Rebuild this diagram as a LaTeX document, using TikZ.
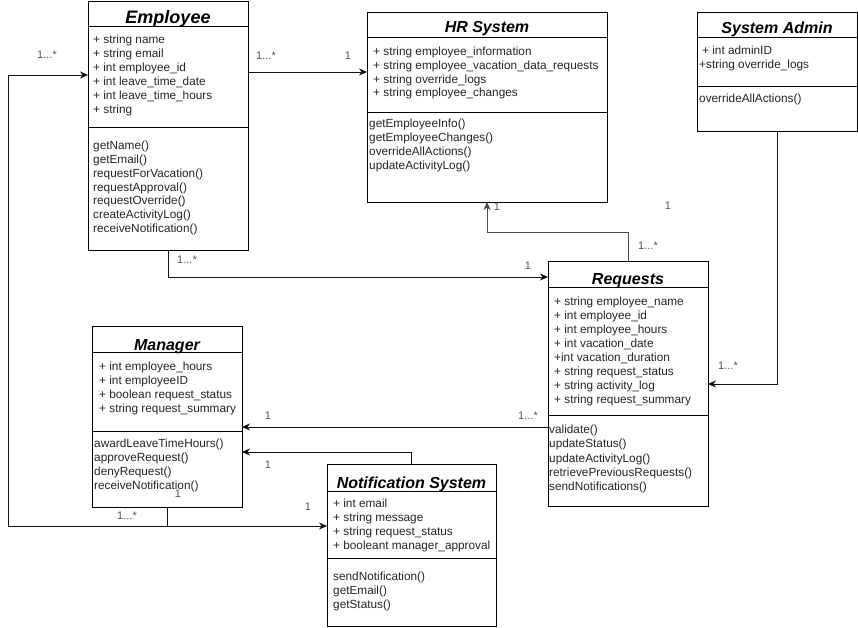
\documentclass[tikz,border=0pt]{standalone}
\usepackage{fontspec}
\setmainfont{Liberation Sans}
\usetikzlibrary{arrows.meta}
\definecolor{lbl}{HTML}{555555}
\definecolor{ln}{HTML}{111111}
\tikzset{
  x=1pt, y=-1pt,
  cls/.style={draw=black, line width=0.9pt, anchor=north west, inner sep=0pt, outer sep=0pt},
  sep/.style={draw=black, line width=0.9pt},
  txt/.style={anchor=base west, inner sep=0pt, font=\fontsize{11.8}{13}\selectfont, text=black!85},
  ttl/.style={anchor=base, inner sep=0pt, font=\fontsize{16}{18}\selectfont\bfseries\itshape},
  lab/.style={inner sep=0pt, font=\fontsize{11}{13}\selectfont, text=lbl},
  arr/.style={draw=ln, line width=0.9pt, -{Stealth[length=8pt,width=7pt]}},
  con/.style={draw=ln, line width=0.9pt},
}
\begin{document}
\begin{tikzpicture}
\useasboundingbox (0,0) rectangle (858,628);
\fill[white] (0,0) rectangle (858,628);

% ---------------- Employee
\node[cls, minimum width=160pt, minimum height=249pt] (emp) at (88,1) {};
\draw[sep] (88,26) -- (248,26);
\draw[sep] (88,127) -- (248,127);
\node[ttl, font=\fontsize{18}{20}\selectfont\bfseries\itshape] (empt) at (168,24) {Employee};
\foreach \t [count=\i] in {+ string name, + string email, + int employee\_id, + int leave\_time\_date, + int leave\_time\_hours, + string}
  \node[txt] (ea\i) at (93,{44+14*(\i-1)}) {\t};
\foreach \t [count=\i] in {getName(), getEmail(), requestForVacation(), requestApproval(), requestOverride(), createActivityLog(), receiveNotification()}
  \node[txt] (em\i) at (93,{150+13.7*(\i-1)}) {\t};

% ---------------- HR System
\node[cls, minimum width=240pt, minimum height=190pt] (hr) at (367,12) {};
\draw[sep] (367,37) -- (607,37);
\draw[sep] (367,112) -- (607,112);
\node[ttl] (hrt) at (487,33) {HR System};
\foreach \t [count=\i] in {+ string employee\_information, + string employee\_vacation\_data\_requests, + string override\_logs, + string employee\_changes}
  \node[txt] (ha\i) at (373,{55.5+13.8*(\i-1)}) {\t};
\foreach \t [count=\i] in {getEmployeeInfo(), getEmployeeChanges(), overrideAllActions(), updateActivityLog()}
  \node[txt] (hm\i) at (369,{128+14*(\i-1)}) {\t};

% ---------------- System Admin
\node[cls, minimum width=160pt, minimum height=119pt] (adm) at (697,12) {};
\draw[sep] (697,37) -- (857,37);
\draw[sep] (697,86) -- (857,86);
\node[ttl] (admt) at (777,34) {System Admin};
\node[txt] (aa1) at (702,55) {+ int adminID};
\node[txt] (aa2) at (699,69) {+string override\_logs};
\node[txt] (am1) at (699,103) {overrideAllActions()};

% ---------------- Requests
\node[cls, minimum width=160pt, minimum height=245pt] (req) at (548,261) {};
\draw[sep] (548,287) -- (708,287);
\draw[sep] (548,415) -- (708,415);
\node[ttl] (reqt) at (628,284) {Requests};
\foreach \t [count=\i] in {+ string employee\_name, + int employee\_id, + int employee\_hours, + int vacation\_date, +int vacation\_duration, + string request\_status, + string activity\_log, + string request\_summary}
  \node[txt] (ra\i) at (554,{305+14*(\i-1)}) {\t};
\foreach \t [count=\i] in {validate(), updateStatus(), updateActivityLog(), retrievePreviousRequests(), sendNotifications()}
  \node[txt] (rm\i) at (549,{433.3+14.35*(\i-1)}) {\t};

% ---------------- Manager
\node[cls, minimum width=150pt, minimum height=181pt] (mgr) at (92,326) {};
\draw[sep] (92,352) -- (242,352);
\draw[sep] (92,431) -- (242,431);
\node[ttl] (mgrt) at (167,350) {Manager};
\foreach \t [count=\i] in {+ int employee\_hours, + int employeeID, + boolean request\_status, + string request\_summary}
  \node[txt] (ma\i) at (99,{370+14*(\i-1)}) {\t};
\foreach \t [count=\i] in {awardLeaveTimeHours(), approveRequest(), denyRequest(), receiveNotification()}
  \node[txt] (mm\i) at (94,{447.3+14.2*(\i-1)}) {\t};

% ---------------- Notification System
\node[cls, minimum width=169pt, minimum height=162pt] (ntf) at (327,464) {};
\draw[sep] (327,491) -- (496,491);
\draw[sep] (327,558) -- (496,558);
\node[ttl] (ntft) at (411.5,488) {Notification System};
\foreach \t [count=\i] in {+ int email, + string message, + string request\_status, + booleant manager\_approval}
  \node[txt] (na\i) at (333,{507+14.3*(\i-1)}) {\t};
\foreach \t [count=\i] in {sendNotification(), getEmail(), getStatus()}
  \node[txt] (nm\i) at (333,{580+14*(\i-1)}) {\t};

% ---------------- connectors
\draw[arr] (emp.east |- 0,72) -- (hr.west |- 0,72);
\draw[arr] (emp.south) -- (emp.south |- 0,277) -- (req.west |- 0,277);
\draw[arr, draw=black!70] (req.north) -- (req.north |- 0,232) -- (hr.south |- 0,232) -- (hr.south);
\draw[arr] (adm.south) -- (adm.south |- 0,384) -- (req.east |- 0,384);
\draw[arr] (req.west |- 0,427) -- (mgr.east |- 0,427);
\draw[arr] (ntf.north) -- (ntf.north |- 0,452) -- (mgr.east |- 0,452);
\coordinate (jn) at (mgr.south |- 0,526);
\draw[arr] (mgr.south) -- (jn) -- (ntf.west |- 0,526);
\draw[arr] (jn) -- (8,526) -- (8,75) -- (emp.west |- 0,75);

% ---------------- multiplicity labels
\node[lab] (l1) at (47,55) {1...*};
\node[lab] (l2) at (266,56) {1...*};
\node[lab] (l3) at (348,56) {1};
\node[lab] (l4) at (497,207) {1};
\node[lab] (l5) at (668,206) {1};
\node[lab] (l6) at (648,246) {1...*};
\node[lab] (l7) at (528,266) {1};
\node[lab] (l8) at (187,260) {1...*};
\node[lab] (l9) at (728,366) {1...*};
\node[lab] (l10) at (528,416) {1...*};
\node[lab] (l11) at (268,416) {1};
\node[lab] (l12) at (268,465) {1};
\node[lab] (l13) at (178,494) {1};
\node[lab] (l14) at (308,507) {1};
\node[lab] (l15) at (127,516) {1...*};
\end{tikzpicture}
\end{document}
